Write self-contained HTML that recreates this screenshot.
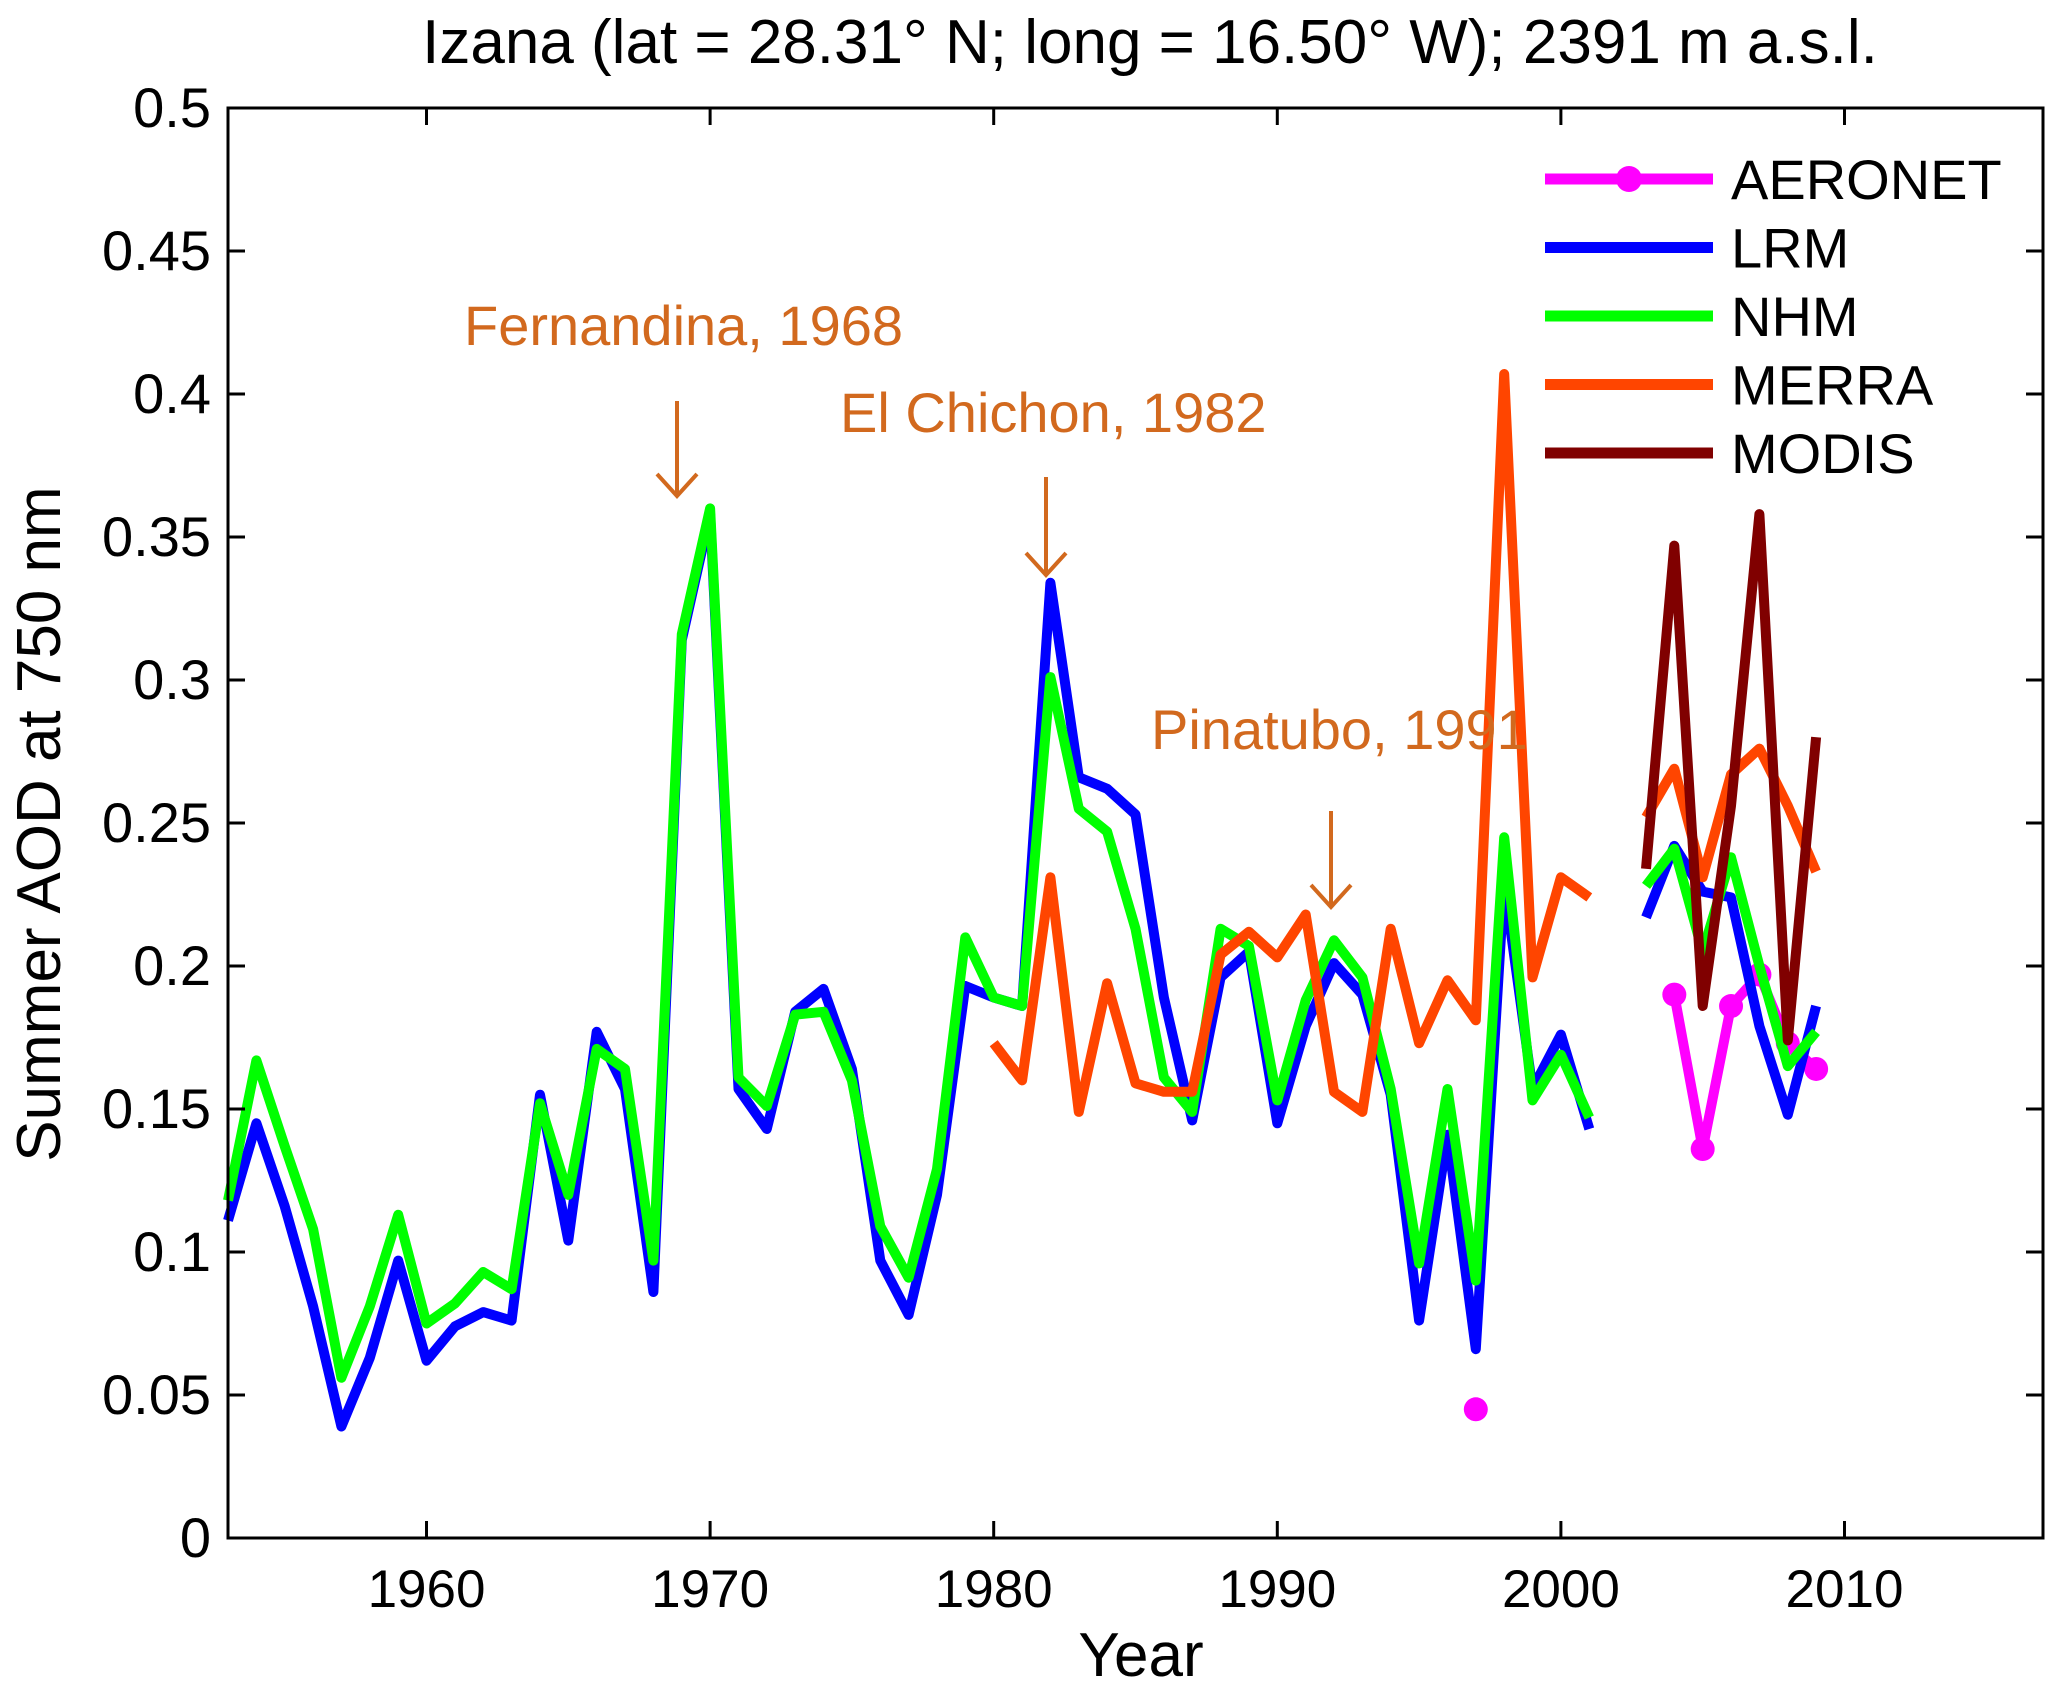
<!DOCTYPE html>
<html><head><meta charset="utf-8"><style>
html,body{margin:0;padding:0;background:#fff;}
svg{display:block;font-family:"Liberation Sans",Arial,sans-serif;}
</style></head><body>
<svg id="chart" width="2067" height="1698" viewBox="0 0 2067 1698">
<text x="1150" y="63" font-size="62" text-anchor="middle">Izana (lat = 28.31° N; long = 16.50° W); 2391 m a.s.l.</text>
<g id="series"></g>
<g id="axes"></g>
<text x="1141" y="1676" font-size="62" text-anchor="middle">Year</text>
<text transform="translate(60,824) rotate(-90)" font-size="62" text-anchor="middle">Summer AOD at 750 nm</text>
<g fill="#D2691E" font-size="56">
<text x="464" y="345">Fernandina, 1968</text>
<text x="840" y="432">El Chichon, 1982</text>
<text x="1151" y="749">Pinatubo, 1991</text>
</g>
<g stroke="#D2691E" stroke-width="4" fill="none">
<path d="M677 401 V496 M657 474 L677 496 L697 474"/>
<path d="M1046 477 V575 M1026 553 L1046 575 L1066 553"/>
<path d="M1331 811 V907 M1311 885 L1331 907 L1351 885"/>
</g>
<g id="legend"></g>
</svg>
<script>
const years = [];
for (let y = 1953; y <= 2009; y++) years.push(y);
const lrm = [0.111,0.145,0.116,0.081,0.039,0.063,0.097,0.062,0.074,0.079,0.076,0.155,0.104,0.177,0.157,0.086,0.314,0.358,0.157,0.143,0.184,0.192,0.164,0.097,0.078,0.120,0.193,0.189,0.186,0.334,0.266,0.262,0.253,0.189,0.146,0.196,0.205,0.145,0.179,0.201,0.190,0.155,0.076,0.141,0.066,0.229,0.157,0.176,0.143,null,0.217,0.242,0.226,0.224,0.179,0.148,0.186];
const nhm = [0.118,0.167,0.137,0.108,0.056,0.081,0.113,0.075,0.082,0.093,0.087,0.152,0.120,0.171,0.164,0.097,0.316,0.360,0.161,0.151,0.183,0.184,0.160,0.109,0.091,0.129,0.210,0.189,0.186,0.301,0.255,0.247,0.213,0.161,0.149,0.213,0.207,0.153,0.188,0.209,0.196,0.157,0.096,0.157,0.090,0.245,0.153,0.169,0.147,null,0.228,0.241,0.205,0.238,0.200,0.165,0.177];
const merraYears = [1980,1981,1982,1983,1984,1985,1986,1987,1988,1989,1990,1991,1992,1993,1994,1995,1996,1997,1998,1999,2000,2001,2002,2003,2004,2005,2006,2007,2008,2009];
const merra = [0.173,0.160,0.231,0.149,0.194,0.159,0.156,0.156,0.204,0.212,0.203,0.218,0.156,0.149,0.213,0.173,0.195,0.181,0.407,0.196,0.231,0.224,null,0.252,0.269,0.231,0.267,0.276,0.256,0.233];
const modisYears = [2003,2004,2005,2006,2007,2008,2009];
const modis = [0.234,0.347,0.186,0.256,0.358,0.174,0.280];
const aeronetYears = [1997,1998,2004,2005,2006,2007,2008,2009];
const aeronet = [0.045,null,0.190,0.136,0.186,0.197,0.173,0.164];
const xTicks = [1960,1970,1980,1990,2000,2010];
const yTicks = [0,0.05,0.1,0.15,0.2,0.25,0.3,0.35,0.4,0.45,0.5];
const yTickLabels = ["0","0.05","0.1","0.15","0.2","0.25","0.3","0.35","0.4","0.45","0.5"];
const legendNames = ["AERONET","LRM","NHM","MERRA","MODIS"];

const L=228,R=2043,T=108,B=1538,X0=1953,X1=2017,Y0=0,Y1=0.5;
const sx=v=>L+(v-X0)/(X1-X0)*(R-L);
const sy=v=>B-(v-Y0)/(Y1-Y0)*(B-T);
const NS="http://www.w3.org/2000/svg";
function mk(tag,attrs,parent){const e=document.createElementNS(NS,tag);for(const k in attrs)e.setAttribute(k,attrs[k]);parent.appendChild(e);return e;}
const S=document.getElementById('series'),A=document.getElementById('axes'),LG=document.getElementById('legend');

function pathFor(xs,vs){let d='',pen=false;for(let i=0;i<xs.length;i++){if(vs[i]==null){pen=false;continue;}d+=(pen?'L':'M')+sx(xs[i]).toFixed(1)+' '+sy(vs[i]).toFixed(1)+' ';pen=true;}return d;}
function line(xs,vs,color,name){const p=mk('path',{d:pathFor(xs,vs),stroke:color,'stroke-width':10,fill:'none','stroke-linejoin':'round'},S);

return p;}

line(aeronetYears,aeronet,'#FF00FF','aeronet-line');
aeronetYears.forEach((x,i)=>{if(aeronet[i]==null)return;const c=mk('circle',{cx:sx(x),cy:sy(aeronet[i]),r:12,fill:'#FF00FF'},S);

});
line(years,lrm,'#0000FF','lrm-line');
line(years,nhm,'#00FF00','nhm-line');
line(merraYears,merra,'#FF4500','merra-line');
line(modisYears,modis,'#800000','modis-line');

mk('rect',{x:L,y:T,width:R-L,height:B-T,fill:'none',stroke:'#000','stroke-width':3},A);
xTicks.forEach(t=>{const x=sx(t);
mk('line',{x1:x,x2:x,y1:B,y2:B-17,stroke:'#000','stroke-width':3},A);
mk('line',{x1:x,x2:x,y1:T,y2:T+17,stroke:'#000','stroke-width':3},A);
const tx=mk('text',{x:x,y:1607,'font-size':53,'text-anchor':'middle'},A);tx.textContent=t;

});
yTicks.forEach((t,i)=>{const y=sy(t);
mk('line',{x1:L,x2:L+17,y1:y,y2:y,stroke:'#000','stroke-width':3},A);
mk('line',{x1:R,x2:R-17,y1:y,y2:y,stroke:'#000','stroke-width':3},A);
const tx=mk('text',{x:211,y:y+19,'font-size':56,'text-anchor':'end'},A);tx.textContent=yTickLabels[i];

});

const legColors=['#FF00FF','#0000FF','#00FF00','#FF4500','#800000'];
legendNames.forEach((n,i)=>{const y=179+i*68.5;
const g=mk('g',{},LG);


mk('line',{x1:1545,x2:1713,y1:y,y2:y,stroke:legColors[i],'stroke-width':11},g);
if(i===0)mk('circle',{cx:1629,cy:y,r:13,fill:legColors[i]},g);
const t=mk('text',{x:1731,y:y+20,'font-size':56},g);t.textContent=n;});
</script>
</body></html>
